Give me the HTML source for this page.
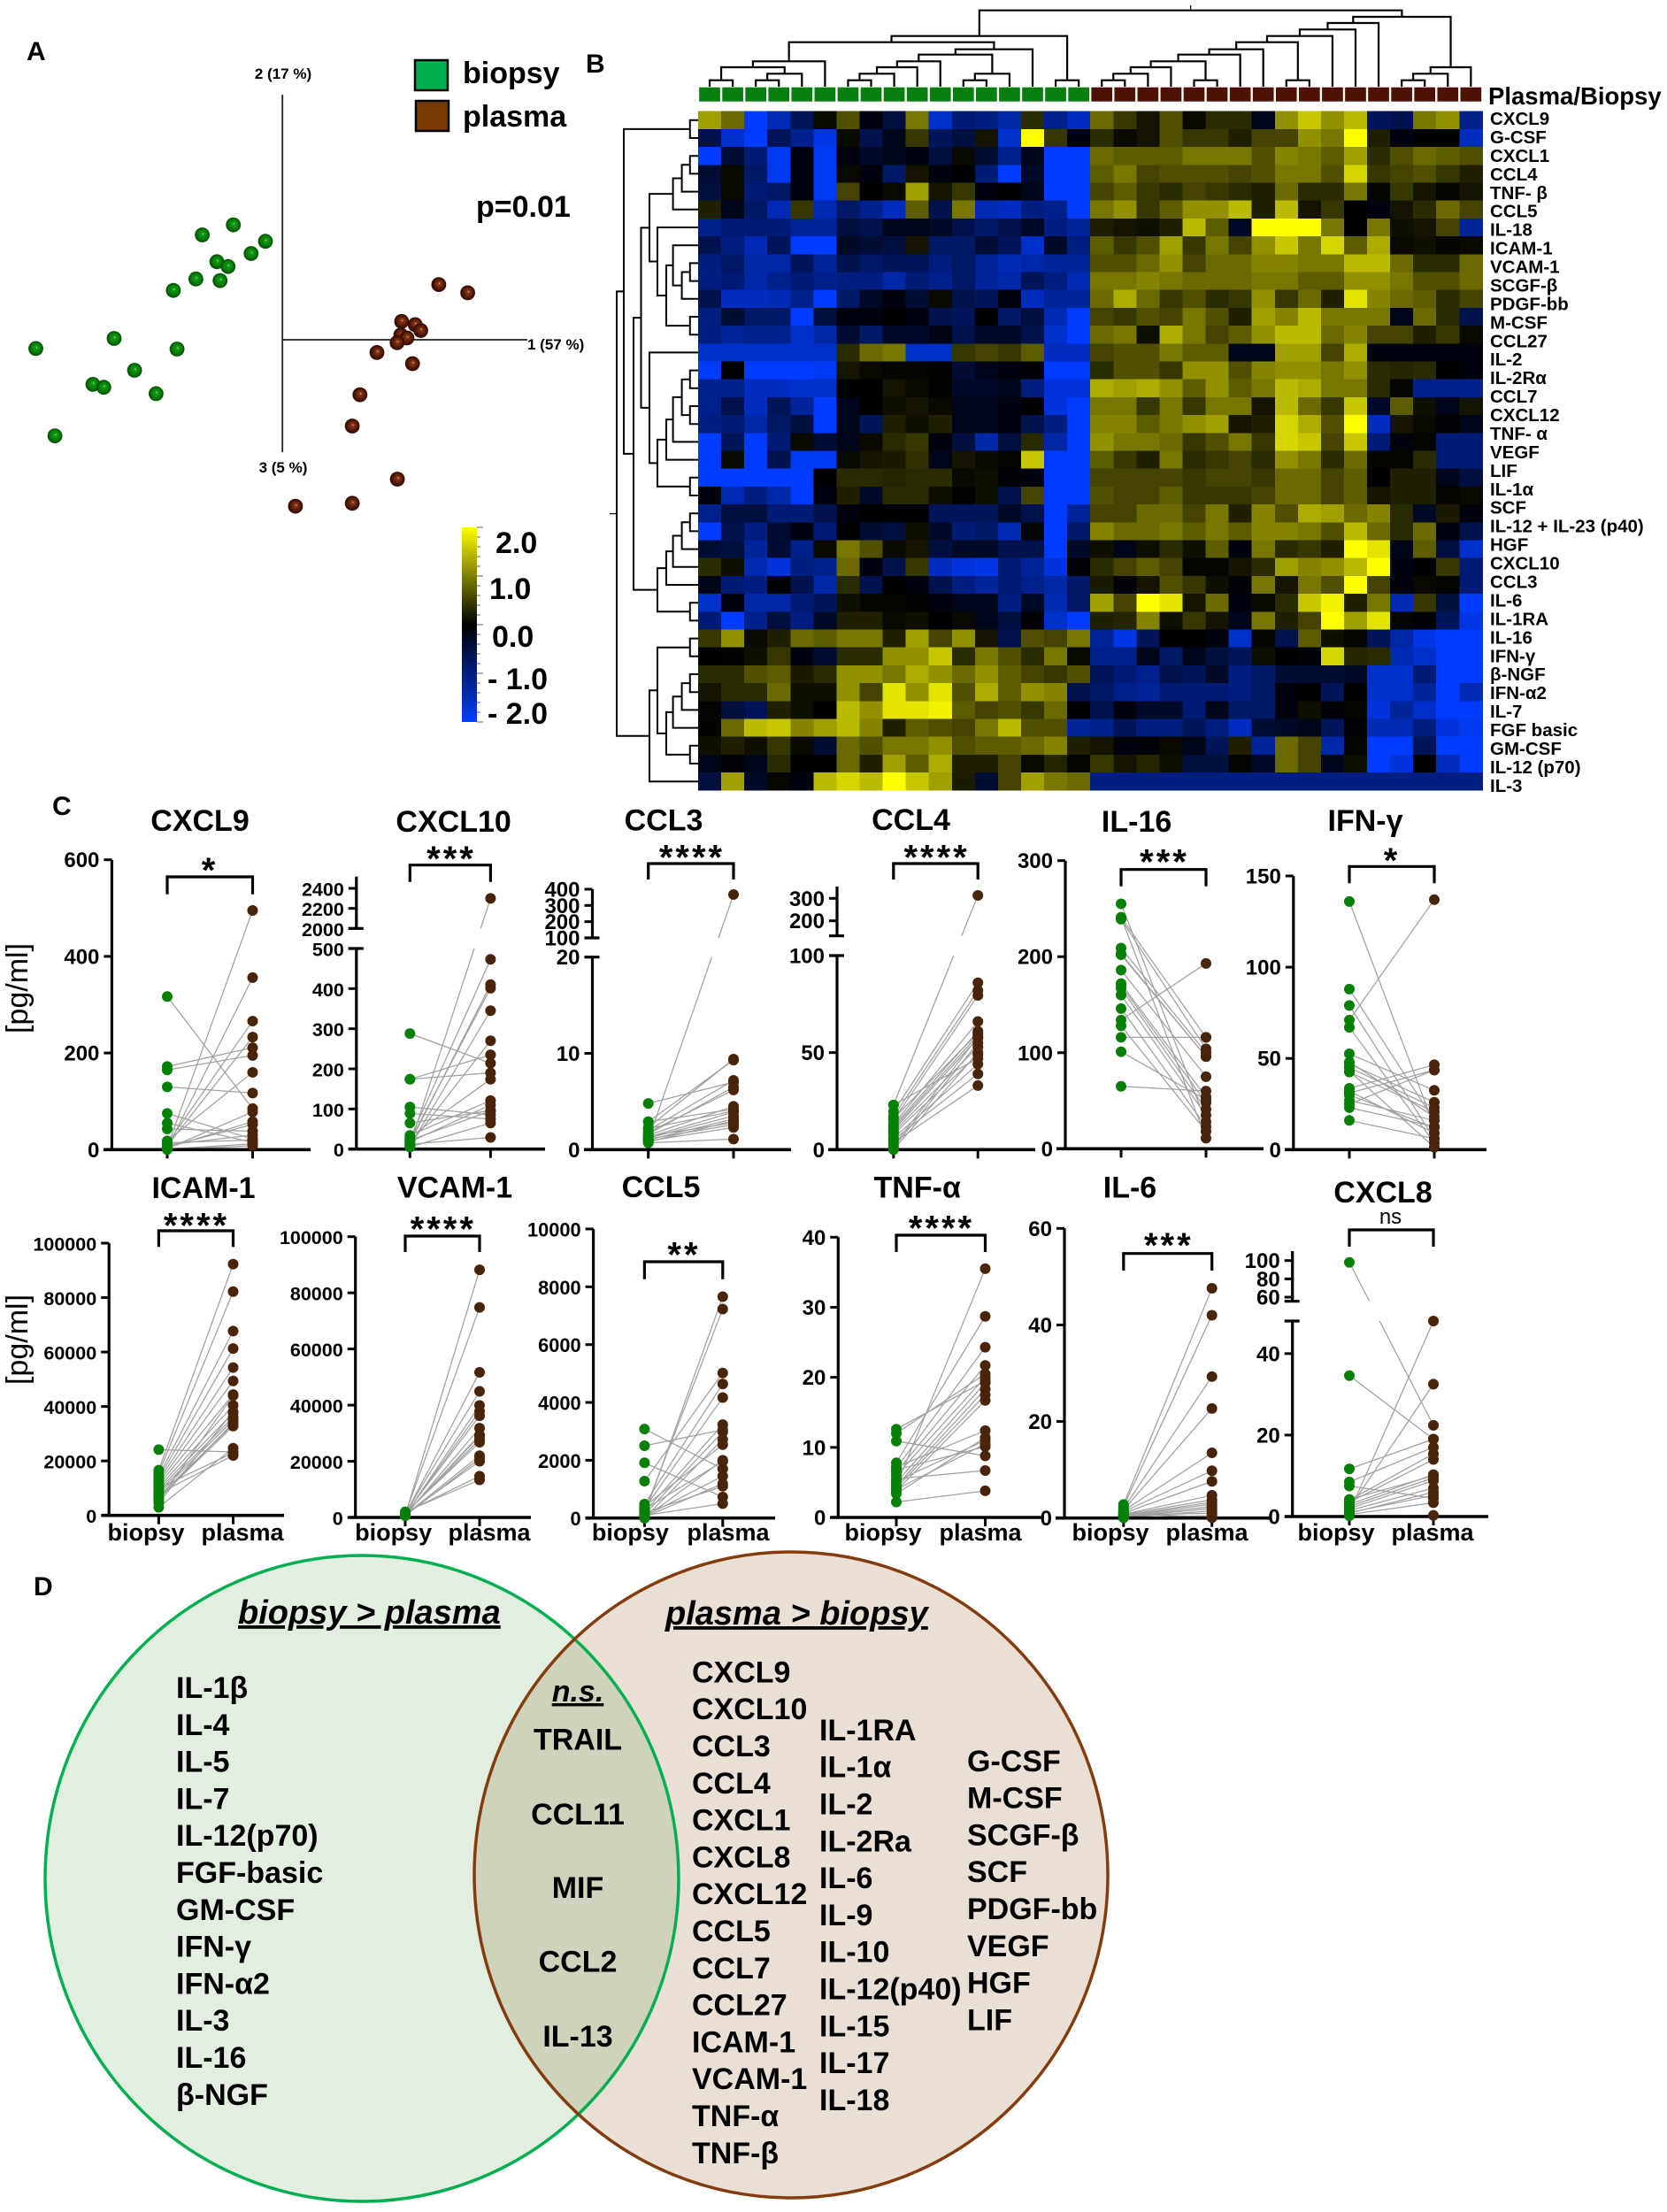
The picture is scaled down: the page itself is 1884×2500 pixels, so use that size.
<!DOCTYPE html>
<html>
<head>
<meta charset="utf-8">
<title>Cytokine profile of biopsy and plasma</title>
<style>
html,body{margin:0;padding:0;background:#fff;}
svg{display:block;}
text{font-family:"Liberation Sans","DejaVu Sans",sans-serif;fill:#000;}
.b{font-weight:bold;}
.venn{font-weight:bold;font-size:34px;}
.venn-head{font-weight:bold;font-style:italic;font-size:38px;text-decoration:underline;}
</style>
</head>
<body>
<svg id="figure" xmlns="http://www.w3.org/2000/svg" width="1884" height="2500" viewBox="0 0 1884 2500">
<defs>
<radialGradient id="gGreen" cx="50%" cy="50%" r="55%" fx="55%" fy="42%">
<stop offset="0" stop-color="#d8ffd8"/><stop offset="0.12" stop-color="#18a018"/><stop offset="0.6" stop-color="#067a06"/><stop offset="1" stop-color="#003c00"/>
</radialGradient>
<radialGradient id="gBrown" cx="50%" cy="50%" r="55%" fx="55%" fy="42%">
<stop offset="0" stop-color="#ffe0d0"/><stop offset="0.12" stop-color="#8a3c18"/><stop offset="0.6" stop-color="#541804"/><stop offset="1" stop-color="#1c0500"/>
</radialGradient>
<linearGradient id="cbar" x1="0" y1="0" x2="0" y2="1">
<stop offset="0" stop-color="#ffff00"/><stop offset="0.5" stop-color="#000000"/><stop offset="1" stop-color="#003cff"/>
</linearGradient>
<clipPath id="greenClip"><ellipse cx="409" cy="2123" rx="358" ry="365"/></clipPath>
</defs>

<!-- Panel labels -->
<text class="b" x="30" y="68" font-size="30">A</text>
<text class="b" x="662" y="82" font-size="30">B</text>
<text class="b" x="59" y="921" font-size="30">C</text>
<text class="b" x="38" y="1803" font-size="30">D</text>

<!-- Panel A -->
<g id="pca">
<line x1="319.2" y1="107" x2="319.2" y2="511" stroke="#222" stroke-width="1.8"/>
<line x1="319.2" y1="384" x2="596" y2="384" stroke="#222" stroke-width="1.8"/>
<text class="b" x="320" y="89" font-size="17" text-anchor="middle">2 (17 %)</text>
<text class="b" x="596" y="395" font-size="17">1 (57 %)</text>
<text class="b" x="320" y="534" font-size="17" text-anchor="middle">3 (5 %)</text>
</g>
<rect x="469" y="68" width="37" height="34" fill="#00b050" stroke="#000" stroke-width="2.5"/>
<rect x="470" y="114" width="37" height="34" fill="#7a3a06" stroke="#000" stroke-width="2.5"/>
<text class="b" x="523" y="94" font-size="34">biopsy</text>
<text class="b" x="523" y="143" font-size="34">plasma</text>
<text class="b" x="538" y="245" font-size="34">p=0.01</text>

<!-- Colour scale -->
<g id="colorScale">
<rect x="522" y="596" width="17" height="220" fill="url(#cbar)"/>
<text class="b" x="560" y="625" font-size="34">2.0</text>
<text class="b" x="553" y="677" font-size="34">1.0</text>
<text class="b" x="556" y="731" font-size="34">0.0</text>
<text class="b" x="551" y="779" font-size="34">- 1.0</text>
<text class="b" x="551" y="818" font-size="34">- 2.0</text>
</g>

<!-- Panel B -->
<g id="heat"></g>
<g id="annot"></g>
<g id="dendroTop" fill="none" stroke="#000" stroke-width="2.2"></g>
<g id="dendroLeft" fill="none" stroke="#000" stroke-width="2"></g>
<g id="rowLabels"></g>
<text class="b" x="1682" y="118" font-size="27.5">Plasma/Biopsy</text>

<!-- Panel C -->
<text transform="translate(31 1117) rotate(-90)" font-size="34" text-anchor="middle">[pg/ml]</text>
<text transform="translate(31 1514) rotate(-90)" font-size="34" text-anchor="middle">[pg/ml]</text>
<g id="panelsC"></g>

<!-- Panel D -->
<g>
<ellipse cx="409" cy="2123" rx="358" ry="365" fill="#e2efe0"/>
<ellipse cx="894" cy="2119" rx="358" ry="365" fill="#e9dfd5"/>
<ellipse cx="894" cy="2119" rx="358" ry="365" fill="#d0d3bc" clip-path="url(#greenClip)"/>
<ellipse cx="409" cy="2123" rx="358" ry="365" fill="none" stroke="#00b050" stroke-width="3.5"/>
<ellipse cx="894" cy="2119" rx="358" ry="365" fill="none" stroke="#843c0c" stroke-width="3.5"/>
<text class="venn-head" x="269" y="1835">biopsy &gt; plasma</text>
<text class="venn-head" x="752" y="1836">plasma &gt; biopsy</text>
<g class="venn">
<text x="199" y="1919">IL-1β</text>
<text x="199" y="1960.8">IL-4</text>
<text x="199" y="2002.6">IL-5</text>
<text x="199" y="2044.4">IL-7</text>
<text x="199" y="2086.2">IL-12(p70)</text>
<text x="199" y="2128">FGF-basic</text>
<text x="199" y="2169.8">GM-CSF</text>
<text x="199" y="2211.6">IFN-γ</text>
<text x="199" y="2253.4">IFN-α2</text>
<text x="199" y="2295.2">IL-3</text>
<text x="199" y="2337">IL-16</text>
<text x="199" y="2378.8">β-NGF</text>
</g>
<g class="venn" text-anchor="middle">
<text x="653" y="1923" font-style="italic" text-decoration="underline">n.s.</text>
<text x="653" y="1977.5">TRAIL</text>
<text x="653" y="2062">CCL11</text>
<text x="653" y="2145">MIF</text>
<text x="653" y="2228.6">CCL2</text>
<text x="653" y="2313">IL-13</text>
</g>
<g class="venn">
<text x="782" y="1901.4">CXCL9</text>
<text x="782" y="1943.2">CXCL10</text>
<text x="782" y="1985">CCL3</text>
<text x="782" y="2026.8">CCL4</text>
<text x="782" y="2068.6">CXCL1</text>
<text x="782" y="2110.4">CXCL8</text>
<text x="782" y="2152.2">CXCL12</text>
<text x="782" y="2194">CCL5</text>
<text x="782" y="2235.8">CCL7</text>
<text x="782" y="2277.6">CCL27</text>
<text x="782" y="2319.4">ICAM-1</text>
<text x="782" y="2361.2">VCAM-1</text>
<text x="782" y="2403">TNF-α</text>
<text x="782" y="2444.8">TNF-β</text>
</g>
<g class="venn">
<text x="926" y="1966.9">IL-1RA</text>
<text x="926" y="2008.7">IL-1α</text>
<text x="926" y="2050.5">IL-2</text>
<text x="926" y="2092.3">IL-2Ra</text>
<text x="926" y="2134.1">IL-6</text>
<text x="926" y="2175.9">IL-9</text>
<text x="926" y="2217.7">IL-10</text>
<text x="926" y="2259.5">IL-12(p40)</text>
<text x="926" y="2301.3">IL-15</text>
<text x="926" y="2343.1">IL-17</text>
<text x="926" y="2384.9">IL-18</text>
</g>
<g class="venn">
<text x="1093" y="2001.8">G-CSF</text>
<text x="1093" y="2043.6">M-CSF</text>
<text x="1093" y="2085.4">SCGF-β</text>
<text x="1093" y="2127.2">SCF</text>
<text x="1093" y="2169">PDGF-bb</text>
<text x="1093" y="2210.8">VEGF</text>
<text x="1093" y="2252.6">HGF</text>
<text x="1093" y="2294.4">LIF</text>
</g>
</g>
</svg>

<script>
// ---------- Panel A data (principal component scores) ----------
const pcaBiopsyPC1 = [-18.5,-30.2,-6.4,-11.8,-24.7,-20.5,-32.6,-23.5,-41.1,-63.4,-92.9,-39.7,-55.7,-71.4,-67.3,-47.6,-85.7];
const pcaBiopsyPC2 = [43.3,39.5,37.1,32.5,29.4,27.6,22.9,22.3,18.6,0.5,-3.3,-3.5,-11.5,-16.8,-17.9,-20.3,-36.2];
const pcaPlasmaPC1 = [58.9,69.8,44.9,50,52.1,44.6,46.9,43.2,35.6,49,29.2,26.3,43.3,26.3,4.9];
const pcaPlasmaPC2 = [20.8,17.7,6.9,5.7,3.5,1.8,0.7,-1.1,-4.8,-9,-20.7,-32.5,-52.5,-61.6,-62.7];

// ---------- Panel B data ----------
const heatRowLabels = ["CXCL9","G-CSF","CXCL1","CCL4","TNF- β","CCL5","IL-18","ICAM-1","VCAM-1","SCGF-β","PDGF-bb","M-CSF","CCL27","IL-2","IL-2Rα","CCL7","CXCL12","TNF- α","VEGF","LIF","IL-1α","SCF","IL-12 + IL-23 (p40)","HGF","CXCL10","CCL3","IL-6","IL-1RA","IL-16","IFN-γ","β-NGF","IFN-α2","IL-7","FGF basic","GM-CSF","IL-12 (p70)","IL-3"];
const heatValues = [
[1.3,.9,-2,-1.4,-.7,.1,.7,-.1,-.5,1,-1.6,-.9,-1,-1.3,.4,-1.1,-1.5,.9,.5,.2,.7,.1,.4,.4,-.2,1.2,1.6,1.2,1.5,-.7,-.6,1,1.2,-1.1],
[-.6,-1.6,-2,-.7,-1.1,-1.8,.1,-.6,-.2,.5,-.7,-.5,.2,-1.6,2,.5,-.1,.4,.1,.2,.7,.5,.5,.3,.6,.6,1.2,1,2,.3,-.1,0,0,-1.5],
[-2,-.4,-.9,-1.9,-.1,-1.9,-.1,-.3,-.2,-.1,-.5,.1,-.4,-1.1,-.2,-2,-2,.9,.8,.8,.8,1,1,1,.7,1.1,1,.8,1.3,.4,.7,.9,.8,.7],
[-.4,.1,-.8,-1.9,-.1,-1.9,.1,-.1,-.8,.2,-.1,0,-.9,-2,-.3,-2,-2,.8,1,.6,.7,.7,.7,.6,.7,1,1,.7,1.7,.5,.6,.7,.5,.3],
[-.5,.1,-.9,-.8,-.1,-1.9,.6,0,.1,1.3,.2,.5,-.1,0,-.2,-2,-2,.6,.8,.5,.4,.6,.5,.4,.3,.9,.4,.4,1,.05,.5,.2,.05,.2],
[.3,-.2,-.8,-1.4,.5,-1.4,-.8,-1.1,-1.5,.8,-.6,1,-1.4,-1.5,-1,-1.1,-2,1,1.2,.5,.8,1.2,1.2,1.5,.3,1.5,.2,.5,0,-.1,.2,.4,.9,.6],
[-1.1,-.9,-.9,-.9,-1.2,-1.2,-.5,-.6,-.2,-.2,-.3,-.6,-.8,-.6,-.3,-1,-1.2,.3,.2,.15,.3,1.5,.8,-.3,2,2,2,1,0,1,.15,.2,.6,-1.2],
[-.6,-1,-1.4,-.7,-2,-2,-.3,-.4,-.5,.2,-.8,-.8,-.4,-.7,-1.6,-.3,-1,.8,.5,.7,1.3,.5,1,.6,1.2,1.6,1,1.7,.8,1.4,.1,.15,.05,.1],
[-1,-.8,-1.3,-1.3,-.7,-1.2,-.6,-.8,-.7,-.7,-1,-.8,-1.2,-1.4,-1.3,-1.2,-1.2,.7,.7,.9,1.2,.6,.9,.9,1.1,1.1,1,1,1.5,1.5,.9,.4,.4,.9],
[-1,-.9,-1.3,-1.1,-.9,-1.1,-1,-1,-1.3,-.9,-1.1,-.8,-1.2,-1.3,-.7,-1,-1.4,1,1,1.1,1,.9,.9,.9,1,1,.8,.8,1.2,1.2,1,.7,.7,.9],
[-.6,-1.5,-1.5,-1.4,-1.1,-2,-.8,-.3,-.1,-.4,.1,-.6,-.7,-.1,-1.5,-1.2,-1.2,.9,1.4,.9,.5,.7,.4,.5,1.2,.5,.9,.3,1.8,1.1,.9,.8,.4,.6],
[-1,-.4,-.8,-.8,-2,-.5,-.1,-.1,0,-.1,-.6,-.7,0,-.8,-.5,-1.4,-2,.6,.5,.7,.6,1,.7,.3,1.3,1.1,1.5,1,1,1,-.2,.9,.4,-.6],
[-1,-1.2,-1.1,-1.1,-1.6,-1.3,-.4,-.8,-.3,-.3,-.15,-.6,-.3,-.3,-.6,-1.6,-2,.9,1,.15,1.4,1,.6,.8,1.2,1.5,1.5,.9,1.1,.6,.6,.3,.5,.1],
[-1.6,-1.6,-1.6,-1.6,-1.6,-1.6,.4,.9,1,-1.6,-1.6,.5,.6,.5,.8,-1.5,-1.5,.6,.7,.7,1,.8,.8,-.2,-.2,1.3,1.3,.6,1.4,-.1,-.1,-.1,-.1,-.1],
[-2,0,-2,-2,-2,-1.9,.2,.1,.05,.05,.02,-.4,-.2,-.1,-.05,-2,-2,.4,.7,.7,.5,1.2,1.2,.7,1.1,1.2,1.2,1,1.2,.4,.35,.4,0,-.1],
[-1.1,-1.1,-1.5,-1.5,-1.6,-1.6,0,0,.2,.1,.02,-.3,-.3,-.2,-1,-1.7,-1.7,1.4,1.3,1.4,1.2,.8,1.2,.8,1,1.5,1.4,1,1,.4,.05,-1.1,-1.1,-1.1],
[-1.1,-.6,-1.5,-.7,-1.2,-2,-.2,0,.15,.2,.1,-.2,-.2,-.1,0,-1.7,-2,1,1,.5,1,.5,1,1,.2,1.5,.9,.5,1.6,-.3,.8,.15,-.2,.2],
[-1,-.9,-1.3,-.8,-.5,-2,-.2,-.7,.3,.15,.3,-.2,-.2,-.1,-.6,-1,-2,1.1,1.1,.8,1,1.2,1.3,.2,.3,1.7,1.4,.7,2,-1.5,.2,.1,-.05,-.2],
[-2,-.7,-2,-.9,.1,-.4,-.2,.1,.4,.5,-.1,-.5,-1.3,-.5,.4,-1.3,-2,1.2,1,1,.9,.5,.7,1,.5,1.7,1.6,.6,1.6,-.9,-.1,.05,-.9,-.9],
[-2,.1,-2,-.6,-1.9,-1.9,.1,.2,.25,.45,-.2,.2,.1,.05,1.6,-2,-2,.8,.5,.3,1,.4,.5,.6,.4,1.2,1,.4,.9,.05,.05,.4,-.9,-.9],
[-2,-2,-2,-2,-2,0,.4,.4,.35,.4,.4,.1,.15,-.05,-.1,-2,-2,.6,.6,.6,.6,.5,.6,.6,.5,.9,.9,.6,.8,0,.3,.3,-.2,-.5],
[-.1,-1.4,-1,-1.3,-2,-.1,.3,-.3,.4,.4,.15,.02,.15,-.6,.6,-2,-2,.7,.6,.6,.8,.5,.5,.5,.6,.9,.9,.6,.8,.2,.3,.3,.05,.1],
[-1.1,-.5,-.5,-.9,-.9,-.6,-.1,0,0,0,-.7,-.7,-.7,-.3,-.6,-2,-1.2,.6,.6,.9,.9,.6,1,.3,1.1,.7,1.4,1.3,.9,1.1,.4,-.3,.25,-.1],
[-2,-.6,-1,-.4,-.1,-.9,0,-.4,-.5,.15,-.3,-.9,-.8,-1.4,.05,-2,-.8,1.1,.9,.9,1,.8,1,.8,1.1,1.1,1,.7,1.5,.9,.4,.9,-.1,-.6],
[-.4,-.5,-1.2,-.4,-1.1,.1,1,.7,.1,.2,-.5,-.3,-.3,-.6,-.6,-2,-.3,.15,-.2,.15,.4,.15,.8,-.1,1,.4,.5,.3,2,1.8,-.2,.8,-.5,-1.6],
[.4,.15,-1.4,-1.7,-1,-1.1,.9,-.1,-.6,.5,-1.5,-1.7,-1.8,-.9,-1.2,-1.7,-.05,.4,.6,.8,.6,.05,.05,.2,.4,1.3,1.1,1.2,1.5,2,-.1,0,.5,-.9],
[-.2,-.9,-1,0,-.6,-1.3,.4,-.6,0,-.1,-.6,-1,-1.2,-.9,-1.1,-1.3,-.8,.25,-.05,.2,.7,.5,.15,-.05,1,.2,1,.7,2,.6,-.1,.1,.05,-.9],
[-1.6,-.1,-1.3,-1.3,-.9,-.7,.15,.05,.05,.02,-.1,-.2,-.2,-1,-.3,-1.4,-.8,1.3,.6,2,1.8,.2,.9,-.1,.1,.4,1.6,1.9,.3,1,-1.4,.5,-.5,-2],
[-.9,-2,-1.1,-.5,-1,-.3,.3,.3,.1,.15,0,.1,-.2,-.5,-.05,-1.6,-2,.3,.35,1.1,.15,.5,.2,-.2,1,.3,.6,2,1.3,1.8,.05,-.05,-.7,-1.8],
[.5,1.2,.1,.3,.9,.8,1,1,.3,1.3,.6,1.2,.2,-.6,.7,.6,1,-1.2,-1.8,-.7,0,0,-.1,-1.6,.05,-.6,.8,.15,.05,-.7,-1.3,-1.8,-2,-2],
[0,.03,.15,.5,-.1,-.4,.4,.4,1.2,1.2,1.6,.4,1,.7,.4,1,.1,-1.1,-1.1,-.2,-.8,-.2,-.5,-.7,.15,0,-.05,1.7,.35,.4,-1.4,-1.6,-2,-2],
[.4,.4,.7,.8,.25,.4,1.2,1.2,1,1.4,1.2,.9,1.2,.8,.6,.5,.7,-.7,-.9,-1.1,-.6,-.7,-.3,-1,-.8,-.4,-.4,-.4,-.3,-1.6,-1.6,-.9,-2,-2],
[.2,.4,.4,.9,.15,.15,1.2,.6,1.8,1.2,1.8,.7,1.4,.8,1.2,1.1,-.6,-.8,-1.1,-1.2,-.9,-.9,-.9,-1,-.8,-.1,0,-.7,0,-1.6,-1.6,-1.2,-2,-1.4],
[.05,-.5,-.7,.3,.15,0,1.5,1.2,1.8,1.8,1.9,.8,.6,.7,.5,.9,0,-.6,-.1,-.3,-.3,-.9,-.2,-.8,-.8,-.1,.15,-.05,.05,-1.7,-1.2,-1.6,-2,-2],
[.03,.9,1.5,1.6,1.1,1.3,1.5,1.1,.3,.8,.7,.6,1,1.5,.7,.7,-1.2,-1.1,-.7,-1,-1,-.7,-1,-1.5,-.4,-.3,-.2,-.7,-.05,-1.4,-1.4,-1,-1.7,-1.9],
[.15,.3,.15,.5,.1,-.4,.9,.7,1,1,1.2,.7,.8,.8,.9,1.1,.3,.2,-.1,-.05,.1,-.2,-.7,.3,-1.2,.9,.6,-1.3,.05,-2,-2,-.7,-2,-2],
[-.2,-.05,-.2,.4,0,0,.9,.3,1.3,.8,1.4,.3,.3,.6,.1,.35,.05,.5,.2,.35,.15,-.5,-.5,.05,-.3,.9,.6,-.2,.15,-2,-1.7,0,-1.5,-2],
[-.5,1.3,-.3,.08,-.1,1.5,1.7,1.5,2,1.6,1.3,.25,-.4,.6,1.3,1,.9,-1,-1,-1,-1,-1,-1,-1,-1,-1,-1,-1,-1,-1,-1,-1,-1,-1]
];
const columnSampleTypes = ["biopsy","biopsy","biopsy","biopsy","biopsy","biopsy","biopsy","biopsy","biopsy","biopsy","biopsy","biopsy","biopsy","biopsy","biopsy","biopsy","biopsy","plasma","plasma","plasma","plasma","plasma","plasma","plasma","plasma","plasma","plasma","plasma","plasma","plasma","plasma","plasma","plasma","plasma"];
// Trees: [linkage distance, child, child]; integers are leaf indices.
const columnTree = [86.3,
 [57.3,
  [50.3,
   [28.7,[22,[7.3,0,1],[14.7,[7.3,2,3],4]],5],
   [42.3,[36.3,[28.7,[22,[14.7,[7.3,6,7],8],9],10],[14.7,[7.3,11,12],13]],14]],
  [7.3,15,16]],
 [79,
  [72,[64.7,[57.3,[50.3,[42.3,[36.3,[28.7,[22,[14.7,[7.3,17,18],19],20],[7.3,21,22]],23],24],[7.3,25,26]],27],28],29],
  [22,[14.7,[7.3,30,31],32],33]]];
const rowTree = [92,
 [84,[9.2,0,1],
  [73,
   [64.5,
    [55,
     [28.4,[18.4,[9.2,2,3],4],5],
     [46,6,[36,[28.4,7,[18.4,[9.2,8,9],10]],[9.2,11,12]]]],
    [55,13,[46,[36,[28.4,[18.4,[9.2,14,15],[9.2,16,17]],18],19],[9.2,20,21]]]],
   [46,[36,[28.4,[18.4,[9.2,22,23],24],25],26],[9.2,27,28]]]],
 [55,[46,[9.2,29,30],[36,[28.4,[18.4,[9.2,31,32],33],34],[9.2,35,36]]],37]];

// ---------- Panel C data (pg/ml), paired biopsy/plasma ----------
const cxcl9Biopsy = [5,3,12,8,172,165,18,130,317,2,4,6,43,75,55,1,0,10,14];
const cxcl9Plasma = [495,356,266,233,211,195,160,117,85,78,58,52,38,22,15,12,8,30,20];
const cxcl9Ticks = [0,200,400,600];
const cxcl10Biopsy = [10,25,15,20,8,12,30,288,174,174,105,89,65,34,5,12,18,22];
const cxcl10Plasma = [2300,473,410,401,345,270,174,214,235,190,85,75,96,121,65,29,110,95];
const cxcl10Ticks = [0,100,200,300,400,500,2000,2200,2400];
const ccl3Biopsy = [1,4.8,2.9,2.3,2,1.8,1.5,1.3,1.2,1,.8,2.9,1.6,1.4,1.1,.9,.7,2.2];
const ccl3Plasma = [367,7,4.2,9.4,7.2,6.2,4.5,3.9,3.5,3.2,3,9.3,6.5,2.8,2.6,2.3,1.1,4];
const ccl3Ticks = [0,10,20,100,200,300,400];
const ccl4Biopsy = [23,23,19.5,17,15,13,12,11,10,9,8,6,5,3.5,2,1,0,16];
const ccl4Plasma = [313,47,86,82,79.5,66,61,59,57.5,53,49,44,39,33,58,55,50,60];
const ccl4Ticks = [0,50,100,200,300];
const il16Biopsy = [255,241,239,209,202,186,172,167,160,146,134,128,116,101,65,241,203,170];
const il16Plasma = [28,116,104,100,96,75,54,41,35,23,193,18,116,51,60,11,96,48];
const il16Ticks = [0,100,200,300];
const ifngBiopsy = [136,88,79,71,67,52.5,47,45,42.5,33.6,31,27,23,16,43,25,30,48,32];
const ifngPlasma = [12.6,16,6,137,3.7,32.5,26,23,20.7,46.5,43.6,16,12.6,6,1.3,43.6,12,18,9];
const ifngTicks = [0,50,100,150];
const icamBiopsy = [16600,15500,14400,13500,12800,12000,11200,10300,9500,8700,7900,7000,6300,5500,4700,3000,24160,10000,8000,6000];
const icamPlasma = [92300,82200,67700,61300,54300,49400,44400,40400,37700,36000,35000,33500,32800,44000,38000,24700,23300,23000,22000,34000];
const icamTicks = [0,20000,40000,60000,80000,100000];
const vcamBiopsy = [800,1200,1000,1500,900,1100,1300,700,1000,1400,1600,900,1100,1800,2000,1200,600];
const vcamPlasma = [88200,74800,51700,44900,39900,37800,36200,31800,29400,27800,26800,22000,20000,14700,13400,29000,21000];
const vcamTicks = [0,20000,40000,60000,80000,100000];
const ccl5Biopsy = [120,220,3080,2500,1910,1275,480,330,220,120,0,400,300,60,30,180,90,0];
const ccl5Plasma = [7660,7230,1700,3050,730,5020,4640,4170,3230,2980,2720,2540,1960,1450,1190,1100,500,2000];
const ccl5Ticks = [0,2000,4000,6000,8000,10000];
const tnfBiopsy = [4.5,7.8,7,6.5,6,12.6,10.9,5.5,5,4.5,4.2,3.8,7.2,3.4,5.2,2.2,6.8,12,4];
const tnfPlasma = [35.5,28.7,24.3,21.7,20,19.5,8.8,6.7,19.2,18.3,17.5,16.7,12.4,11.4,11,3.8,10.1,20.5,10.5];
const tnfTicks = [0,10,20,30,40];
const il6Biopsy = [2.8,2.4,2,1.7,1.5,1.3,1,.8,.7,.5,.4,.3,.2,.1,.05,1.1,.6,.9];
const il6Plasma = [47.6,42,29.3,22.7,13.5,9.8,7.6,4.7,3.8,3.3,2.9,2.4,2,1.5,.5,.1,1,.1];
const il6Ticks = [0,20,40,60];
const cxcl8Biopsy = [98,34.6,11.7,8.5,7.5,1,2,4,3.5,3,2.5,2,1.5,1,.5,.2,.8,4.2];
const cxcl8Plasma = [22.4,19,19,17,4.5,48,32.5,15.4,14,10.3,9.5,8.8,7,5.2,3.4,.3,6,10];
const cxcl8Ticks = [0,20,40,60,80,100];

// ---------- Helpers ----------
const NS = "http://www.w3.org/2000/svg";
function mk(tag, attrs, parent) {
  const el = document.createElementNS(NS, tag);
  for (const k in attrs) el.setAttribute(k, attrs[k]);
  parent.appendChild(el);
  return el;
}
function lin(d, r) { return v => r[0] + (v - d[0]) * (r[1] - r[0]) / (d[1] - d[0]); }

// ---------- Panel A ----------
const pcaX = v => 319.2 + 3 * v;
const pcaY = v => 384 - 3 * v;
const pcaG = document.getElementById('pca');
pcaBiopsyPC1.forEach((v, i) => {
  const c = mk('circle', {cx: pcaX(v), cy: pcaY(pcaBiopsyPC2[i]), r: 8.4, fill: 'url(#gGreen)'}, pcaG);
  
  
});
pcaPlasmaPC1.forEach((v, i) => {
  const c = mk('circle', {cx: pcaX(v), cy: pcaY(pcaPlasmaPC2[i]), r: 8.4, fill: 'url(#gBrown)'}, pcaG);
  
  
});
const colorScaleG = document.getElementById('colorScale');
for (let i = 0; i <= 20; i++) {
  const y = 596 + i * 11;
  const t = mk('line', {x1: 539, x2: i % 5 === 0 ? 546 : 543, y1: y, y2: y, stroke: '#666', 'stroke-width': 1}, colorScaleG);
  
  
}

// ---------- Panel B ----------
const heatLeft = 789, colW = 26.07, heatTop = 125.7, rowH = 20.2;
function heatColor(v) {
  const c = Math.max(-2, Math.min(2, v));
  if (c >= 0) { const t = Math.round(Math.pow(c / 2, 1.1) * 255); return 'rgb(' + t + ',' + t + ',0)'; }
  const t = -c / 2;
  return 'rgb(0,' + Math.round(60 * t) + ',' + Math.round(255 * t) + ')';
}
const heatG = document.getElementById('heat');
heatValues.forEach((row, r) => {
  row.forEach((v, c) => {
    const cell = mk('rect', {x: heatLeft + c * colW, y: heatTop + r * rowH, width: colW + 0.4, height: rowH + 0.4, fill: heatColor(v), 'shape-rendering': 'crispEdges'}, heatG);
    
    
  });
});
const annotG = document.getElementById('annot');
columnSampleTypes.forEach((t, c) => {
  const a = mk('rect', {x: heatLeft + c * colW + 1.2, y: 98.7, width: colW - 2.4, height: 16, fill: t === 'biopsy' ? '#087d10' : '#4d1205'}, annotG);
  
  
});
heatRowLabels.forEach((s, i) => {
  const t = mk('text', {x: 1684, y: 134 + 20.94 * i + 7, 'font-size': 20.5, 'font-weight': 'bold'}, document.getElementById('rowLabels'));
  t.textContent = s;
  
  
});
function drawColumnTree(node, g) {
  if (typeof node === 'number') return {p: heatLeft + (node + 0.5) * colW, d: 0};
  const a = drawColumnTree(node[1], g), b = drawColumnTree(node[2], g);
  const base = 98, y = base - node[0];
  const path = mk('path', {d: 'M' + a.p + ' ' + (base - a.d) + 'V' + y + 'H' + b.p + 'V' + (base - b.d)}, g);
  
  
  return {p: (a.p + b.p) / 2, d: node[0]};
}
function drawRowTree(node, g) {
  if (typeof node === 'number') return {p: heatTop + (node + 0.5) * rowH, d: 0};
  const a = drawRowTree(node[1], g), b = drawRowTree(node[2], g);
  const x = heatLeft - node[0];
  const path = mk('path', {d: 'M' + (heatLeft - a.d) + ' ' + a.p + 'H' + x + 'V' + b.p + 'H' + (heatLeft - b.d)}, g);
  
  
  return {p: (a.p + b.p) / 2, d: node[0]};
}
const topG = document.getElementById('dendroTop');
const topRoot = drawColumnTree(columnTree, topG);
const topStub = mk('path', {d: 'M' + topRoot.p + ' ' + (98 - topRoot.d) + 'V6', 'stroke-width': 1.2}, topG);


const leftG = document.getElementById('dendroLeft');
const leftRoot = drawRowTree(rowTree, leftG);
const leftStub = mk('path', {d: 'M' + (heatLeft - leftRoot.d) + ' ' + leftRoot.p + 'H689', 'stroke-width': 1.2}, leftG);



// ---------- Panel C ----------
const panels = [
 {id:'cxcl9',title:'CXCL9',sig:'*',b:cxcl9Biopsy,p:cxcl9Plasma,ticks:cxcl9Ticks,ax:126.4,x0:117,x1:351,bx:189,px:285.5,tx:226,ty:927,bt:991,bb:1010.7,sx:237,sy:977,low:{d:[0,600],r:[1299.3,971.7]}},
 {id:'cxcl10',title:'CXCL10',sig:'***',b:cxcl10Biopsy,p:cxcl10Plasma,ticks:cxcl10Ticks,ax:402.8,x0:393.7,x1:616,bx:463.3,px:554.4,tx:512.6,ty:928,bt:977.7,bb:996.7,sx:510,sy:964,tf:21.5,low:{d:[0,500],r:[1298.7,1072]},up:{d:[2000,2400],r:[1049.3,1004],top:990.7}},
 {id:'ccl3',title:'CCL3',sig:'****',b:ccl3Biopsy,p:ccl3Plasma,ticks:ccl3Ticks,ax:669.5,x0:660,x1:894,bx:732.7,px:829,tx:750,ty:926.7,bt:976,bb:994,sx:782,sy:962.7,low:{d:[0,20],r:[1299.3,1081.7]},up:{d:[100,400],r:[1060,1005],top:1005}},
 {id:'ccl4',title:'CCL4',sig:'****',b:ccl4Biopsy,p:ccl4Plasma,ticks:ccl4Ticks,ax:946,x0:936,x1:1170,bx:1009.8,px:1105.2,tx:1029.5,ty:926,bt:976,bb:994,sx:1058.6,sy:962.7,low:{d:[0,100],r:[1299.3,1080]},up:{d:[133,300],r:[1057.7,1015.3],top:1002}},
 {id:'il16',title:'IL-16',sig:'***',b:il16Biopsy,p:il16Plasma,ticks:il16Ticks,ax:1204,x0:1194,x1:1428,bx:1267,px:1363,tx:1284.6,ty:928,bt:982.7,bb:1001.7,sx:1316,sy:967.7,low:{d:[0,300],r:[1298.3,972.7]}},
 {id:'ifng',title:'IFN-γ',sig:'*',b:ifngBiopsy,p:ifngPlasma,ticks:ifngTicks,ax:1461.8,x0:1452,x1:1680,bx:1525,px:1621,tx:1543,ty:927,bt:979.3,bb:998.3,sx:1573,sy:966,low:{d:[0,150],r:[1299.3,990]}},
 {id:'icam',title:'ICAM-1',sig:'****',b:icamBiopsy,p:icamPlasma,ticks:icamTicks,ax:123.2,x0:115,x1:321,bx:179.4,px:263.5,tx:230,ty:1342,bt:1391,bb:1409.3,sx:222,sy:1378.3,tf:21.5,lb:165,lp:274,low:{d:[0,100000],r:[1712.7,1405]}},
 {id:'vcam',title:'VCAM-1',sig:'****',b:vcamBiopsy,p:vcamPlasma,ticks:vcamTicks,ax:401.7,x0:393.7,x1:600,bx:458,px:542,tx:514,ty:1341.7,bt:1397,bb:1415,sx:500.8,sy:1382.7,tf:21.5,lb:444.6,lp:553,low:{d:[0,100000],r:[1715,1397.7]}},
 {id:'ccl5',title:'CCL5',sig:'**',b:ccl5Biopsy,p:ccl5Plasma,ticks:ccl5Ticks,ax:670.6,x0:661.5,x1:876,bx:728.4,px:816.8,tx:747,ty:1341,bt:1426,bb:1445.7,sx:773,sy:1411.7,tf:21.8,lb:712.4,lp:823,low:{d:[0,10000],r:[1715.7,1389]}},
 {id:'tnf',title:'TNF-α',sig:'****',b:tnfBiopsy,p:tnfPlasma,ticks:tnfTicks,ax:947.3,x0:938,x1:1176.6,bx:1013,px:1113.5,tx:1036.7,ty:1341.7,bt:1396,bb:1415,sx:1064,sy:1381.7,lb:998,lp:1108,low:{d:[0,40],r:[1715,1398.3]}},
 {id:'il6',title:'IL-6',sig:'***',b:il6Biopsy,p:il6Plasma,ticks:il6Ticks,ax:1203,x0:1193,x1:1435.5,bx:1269.8,px:1369.7,tx:1277,ty:1341.7,bt:1416.7,bb:1436,sx:1320.8,sy:1401,lb:1255,lp:1364,low:{d:[0,60],r:[1715.7,1388.3]}},
 {id:'cxcl8',title:'CXCL8',sig:'ns',b:cxcl8Biopsy,p:cxcl8Plasma,ticks:cxcl8Ticks,ax:1460.7,x0:1452,x1:1682,bx:1525,px:1620,tx:1563,ty:1347,bt:1390,bb:1409,sx:1571.5,sy:1375,lb:1510,lp:1619,low:{d:[0,48],r:[1714,1493]},up:{d:[55.5,100],r:[1470.7,1424.7],top:1414}}
];

const panelsG = document.getElementById('panelsC');
panels.forEach(P => {
  const g = mk('g', {}, panelsG);
  
  
  const yLow = lin(P.low.d, P.low.r);
  const yUp = P.up ? lin(P.up.d, P.up.r) : null;
  const yScale = v => (P.up && v >= P.up.d[0]) ? yUp(v) : yLow(v);
  const y0 = yLow(0);

  // connecting lines
  P.b.forEach((bv, i) => {
    const l = mk('line', {x1: P.bx, y1: yScale(bv), x2: P.px, y2: yScale(P.p[i]), stroke: '#a0a0a0', 'stroke-width': 1.25}, g);
    
    
  });
  // axis break gap across the lines
  if (P.up) {
    const gap = mk('rect', {x: P.ax + 8, y: yUp(P.up.d[0]), width: P.x1 - P.ax - 8, height: yLow(P.low.d[1]) - yUp(P.up.d[0]), fill: '#fff'}, g);
    
    
  }
  // y axis
  const yAxisLow = mk('line', {x1: P.ax, x2: P.ax, y1: y0, y2: yLow(P.low.d[1]), stroke: '#000', 'stroke-width': 3.2}, g);
  
  
  if (P.up) {
    const yAxisUp = mk('line', {x1: P.ax, x2: P.ax, y1: yUp(P.up.d[0]), y2: P.up.top, stroke: '#000', 'stroke-width': 3.2}, g);
    
    
    [yUp(P.up.d[0]), yLow(P.low.d[1])].forEach(y => {
      const w = mk('line', {x1: P.ax - 9, x2: P.ax + 8, y1: y, y2: y, stroke: '#000', 'stroke-width': 3.2}, g);
      
      
    });
  }
  P.ticks.forEach(v => {
    const y = yScale(v);
    const t = mk('line', {x1: P.ax - 9, x2: P.ax, y1: y, y2: y, stroke: '#000', 'stroke-width': 3}, g);
    
    
    const lab = mk('text', {x: P.ax - 14, y: y + 8.5, 'text-anchor': 'end', 'font-size': P.tf || 24, 'font-weight': 'bold'}, g);
    lab.textContent = String(v);
    
    
  });
  // x axis
  const xAxis = mk('line', {x1: P.x0, x2: P.x1, y1: y0, y2: y0, stroke: '#000', 'stroke-width': 3.6}, g);
  
  
  [P.bx, P.px].forEach(x => {
    const t = mk('line', {x1: x, x2: x, y1: y0, y2: y0 + 10, stroke: '#000', 'stroke-width': 3}, g);
    
    
  });
  if (P.lb) {
    const lb = mk('text', {x: P.lb, y: 1741, 'text-anchor': 'middle', 'font-size': 27, 'font-weight': 'bold'}, g);
    lb.textContent = 'biopsy';
    
    
    const lp = mk('text', {x: P.lp, y: 1741, 'text-anchor': 'middle', 'font-size': 27, 'font-weight': 'bold'}, g);
    lp.textContent = 'plasma';
    
    
  }
  // points
  P.b.forEach(v => {
    const c = mk('circle', {cx: P.bx, cy: yScale(v), r: 6, fill: '#068006'}, g);
    
    
  });
  P.p.forEach(v => {
    const c = mk('circle', {cx: P.px, cy: yScale(v), r: 6, fill: '#4a2409'}, g);
    
    
  });
  // title
  const title = mk('text', {x: P.tx, y: P.ty + 12, 'text-anchor': 'middle', 'font-size': 34, 'font-weight': 'bold'}, g);
  title.textContent = P.title;
  
  
  // bracket
  const br = mk('path', {d: 'M' + P.bx + ' ' + P.bb + 'V' + P.bt + 'H' + P.px + 'V' + P.bb, fill: 'none', stroke: '#000', 'stroke-width': 3.2}, g);
  
  
  const isNs = P.sig === 'ns';
  const s = isNs
    ? mk('text', {x: P.sx, y: P.sy + 8, 'text-anchor': 'middle', 'font-size': 24}, g)
    : mk('text', {x: P.sx, y: P.sy + 20, 'text-anchor': 'middle', 'font-size': 40, 'font-weight': 'bold', 'letter-spacing': 3}, g);
  s.textContent = P.sig;
  
  
});
</script>
</body>
</html>
